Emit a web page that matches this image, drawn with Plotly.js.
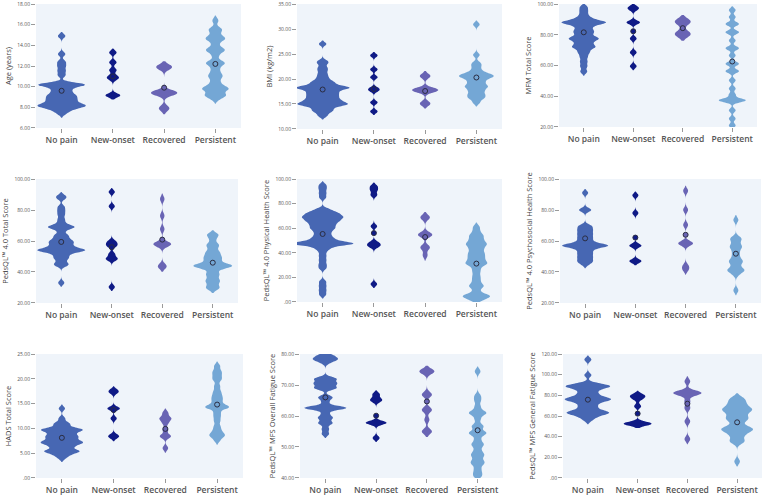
<!DOCTYPE html>
<html>
<head>
<meta charset="utf-8">
<script src="https://cdn.plot.ly/plotly-3.0.1.min.js"></script>
<style>html,body{margin:0;padding:0;background:#fff;}#chart{width:767px;height:497px;}</style>
</head>
<body>
<div id="chart"></div>
<script>
// ---------------- DATA ----------------
const categories = ['No pain', 'New-onset', 'Recovered', 'Persistent'];

const yTitles = [
  'Age (years)', 'BMI (kg/m2)', 'MFM Total Score',
  'PedsQL™ 4.0 Total Score', 'PedsQL™ 4.0 Physical Health Score', 'PedsQL™ 4.0 Psychosocial Health Score',
  'HADS Total Score', 'PedsQL™ MFS Overall Fatigue Score', 'PedsQL™ MFS General Fatigue Score'
];

// tick labels per panel
const ticksAge     = ['6.00','8.00','10.00','12.00','14.00','16.00','18.00'];
const ticksBmi     = ['10.00','15.00','20.00','25.00','30.00','35.00'];
const ticksMfm     = ['20.00','40.00','60.00','80.00','100.00'];
const ticksTotal   = ['20.00','40.00','60.00','80.00','100.00'];
const ticksPhys    = ['.00','20.00','40.00','60.00','80.00','100.00'];
const ticksPsych   = ['20.00','40.00','60.00','80.00','100.00'];
const ticksHads    = ['.00','5.00','10.00','15.00','20.00','25.00'];
const ticksOverall = ['40.00','50.00','60.00','70.00','80.00'];
const ticksGeneral = ['.00','20.00','40.00','60.00','80.00','100.00','120.00'];

// observations as [value, number of children with that value]
const ageNoPain     = [[14.9,1],[13.15,1],[12.4,1],[12.0,1],[11.55,1],[11.1,1],[10.2,6],[9.8,2],[9.45,2],[9.1,3],[8.75,3],[8.4,3],[8.1,5],[7.75,2],[7.4,1]];
const ageNewOnset   = [[13.3,1],[12.35,1],[11.6,1],[11.0,1],[10.75,1],[9.15,2]];
const ageRecovered  = [[11.9,3],[9.4,5],[7.9,2]];
const agePersistent = [[16.4,1],[15.55,2],[15.1,1],[14.65,3],[14.1,1],[13.55,3],[13.0,1],[12.3,3],[11.8,1],[11.4,1],[11.0,2],[10.5,1],[10.2,1],[9.8,4],[9.2,3],[8.85,1]];
const ageMeans      = [9.6, 11.0, 9.9, 12.2];

const bmiNoPain     = [[27,1],[23.6,1],[23.1,1],[22.3,1],[21.7,1],[21.0,1],[20.4,1],[19.9,1],[19.4,2],[18.9,2],[18.3,6],[17.7,3],[17.1,3],[16.5,3],[15.9,3],[15.4,3],[14.9,5],[14.3,2],[13.7,2],[13.2,1],[12.6,1]];
const bmiNewOnset   = [[24.7,1],[21.9,1],[20.35,1],[18.15,1],[17.65,1],[15.3,1],[13.5,1]];
const bmiRecovered  = [[20.6,2],[17.8,5],[15.1,2]];
const bmiPersistent = [[30.9,1],[24.8,1],[23.2,1],[22.6,1],[21.9,1],[21.2,2],[20.6,4],[20.0,2],[19.3,2],[18.5,3],[17.7,2],[16.9,2],[16.2,2],[15.3,1]];
const bmiMeans      = [17.9, 18.0, 17.6, 20.3];

const mfmNoPain     = [[98,1],[95.5,1],[93,1],[90.5,2],[88,6],[85.5,2],[83,2],[81,2],[78.5,2],[77,3],[74.5,2],[72,3],[69.5,1],[68,1],[65.5,1],[62.5,1],[59.5,1],[56,1]];
const mfmNewOnset   = [[98,1],[96.5,1],[88,2],[77.5,1],[68.5,1],[59.5,1]];
const mfmRecovered  = [[88.5,4],[80.5,4]];
const mfmPersistent = [[96,1],[91.5,1],[87,2],[81.6,2],[76.2,1],[71.2,2],[66.5,1],[61.1,2],[56.3,2],[50.3,1],[45,1],[41,1],[37.3,4],[30.8,1],[25.4,1],[21,1]];
const mfmMeans      = [81.6, 82.3, 84.3, 62.6];

const totalNoPain     = [[89,1],[87.5,1],[82,1],[79.5,1],[77,1],[74,1],[71.5,1],[69,4],[66.5,1],[63.5,2],[61,2],[59,3],[56.5,3],[54,7],[51.5,2],[49,2],[46.5,1],[44.5,2],[33,1]];
const totalNewOnset   = [[91.6,1],[82.4,1],[59.8,1],[58,1],[56.5,1],[51.6,1],[48.8,1],[48,1],[30.3,1]];
const totalRecovered  = [[87.1,1],[76.3,1],[67.7,1],[58,4],[43.7,2]];
const totalPersistent = [[64,2],[61,1],[57.5,2],[55,1],[52.5,2],[50,2],[48,2],[45.5,2],[43.7,6],[41,1],[38.5,2],[36,1],[34,2],[31.5,1],[29.5,2]];
const totalMeans      = [59.4, 56.0, 60.9, 46.0];

const physNoPain     = [[95,1],[92,1],[88.5,1],[85,1],[75,2],[72,4],[69,5],[66,4],[63,3],[60,3],[57,2],[54,2],[51,3],[47.5,9],[44,2],[41,1],[37.5,1],[34,1],[30.5,1],[27.5,1],[16.5,1],[13,1],[9.5,1],[6,1]];
const physNewOnset   = [[94,1],[91,1],[87,1],[61.5,1],[48.5,1],[46.5,1],[45,1],[14.5,1]];
const physRecovered  = [[68.8,2],[54.7,3],[44.4,2],[38,1]];
const physPersistent = [[61,1],[57.5,1],[54,2],[50.5,2],[47,3],[43.5,2],[40,2],[37,2],[34,2],[31,3],[27.5,1],[24.5,1],[21,1],[18,1],[15,1],[12.5,2],[8.5,1],[5,4],[2,2]];
const physMeans      = [55.3, 56.0, 52.8, 31.2];

const psychNoPain     = [[91,1],[80,2],[69.5,2],[67,2],[64.5,2],[62,2],[59.5,2],[57,7],[54.5,2],[52,2],[49.5,2],[47,2],[45,1]];
const psychNewOnset   = [[89.4,1],[78,1],[57,2],[47,2]];
const psychRecovered  = [[92.4,1],[80.1,1],[70.4,1],[58.5,3],[44,1],[41.5,1]];
const psychPersistent = [[73.6,1],[61.7,2],[59,1],[56.3,2],[53.5,1],[51,1],[48.5,1],[46.6,2],[44,1],[41.2,3],[38.5,1],[28.2,1]];
const psychMeans      = [61.7, 62.2, 64.0, 51.8];

const hadsNoPain     = [[14,1],[12,1],[11,2],[10.5,1],[9.75,6],[9,3],[8.3,4],[7.6,3],[7.05,5],[6.3,3],[5.4,5],[4.7,2],[4,1]];
const hadsNewOnset   = [[17.7,1],[17.2,1],[14,2],[12,1],[8.6,1],[8.2,1]];
const hadsRecovered  = [[13.1,1],[12,2],[11.1,1],[9.74,1],[8.4,2],[6,1]];
const hadsPersistent = [[22.6,1],[21.6,1],[21,1],[20.3,1],[19.7,1],[18.5,1],[17.5,1],[16.8,1],[16.2,1],[15.7,1],[15.1,1],[14.3,4],[13.2,1],[12.4,1],[11.5,1],[10.4,1],[9.6,1],[9.0,1],[8.5,2],[7.6,1]];
const hadsMeans      = [8.1, 13.7, 9.9, 14.8];

const overallNoPain     = [[79.5,2],[78.3,3],[77.2,1],[72,3],[70.5,3],[69,3],[66,2],[64.5,1],[62.6,6],[60.8,1],[59.4,2],[57.7,2],[55.8,1],[54.2,1]];
const overallNewOnset   = [[67,1],[65.5,1],[64.8,1],[57.8,3],[52.9,1]];
const overallRecovered  = [[74.4,3],[66.9,2],[62,2],[58.8,1],[55,2]];
const overallPersistent = [[74.4,1],[66.5,1],[65,1],[63,1],[61,3],[59,1],[56.7,2],[54.5,3],[52.5,1],[50.8,2],[49,1],[47.5,2],[46,1],[44.8,2],[43,1],[41.6,1],[40.5,1]];
const overallMeans      = [66.0, 60.1, 64.7, 55.4];

const generalNoPain     = [[114.5,1],[99.5,1],[91,2],[88.5,5],[85,2],[81.5,2],[78.5,2],[76,5],[73,2],[69.5,2],[66,2],[63,5],[59.5,2],[56,1]];
const generalNewOnset   = [[80.5,1],[79,1],[76.5,1],[69.4,1],[52.5,4]];
const generalRecovered  = [[93.5,1],[82.3,5],[74.2,1],[67.7,1],[54.8,1],[37.7,1]];
const generalPersistent = [[77,2],[73,2],[69.5,2],[66,4],[62,2],[58.5,2],[56,2],[52,1],[48.5,3],[46,3],[42,2],[38,1],[35,2],[16,1]];
const generalMeans      = [75.8, 62.3, 71.9, 53.9];

// ---------------- STYLE ----------------
const colors = ['#4767b3', '#0f1a86', '#6964b4', '#74a7d5'];
// pixel boxes of the nine plot areas [left, right, top, bottom]
const boxes = [
  [36,241,4,128],[297,502,4,129],[559,757,4,127],
  [36,238,179,303],[297,502,179,302],[560,761,179,303],
  [36,243,354,478],[300,503,354,478],[563,762,354,478]
];
// kernel bandwidth per group (value units) and widest-violin fraction per panel
const bandwidths = [
  [0.2,0.2,0.28,0.25],[0.35,0.35,0.5,0.4],[1.3,1.3,2.2,1.3],
  [1.3,1.3,1.8,1.5],[1.6,1.6,2.2,1.8],[1.3,1.3,1.6,1.6],
  [0.4,0.4,0.45,0.45],[0.65,0.65,0.9,0.8],[2,2,2.5,2.5]
];
const widestFrac = [0.94,1.05,0.9,0.95,1.2,0.92,0.82,0.83,0.93];

const panels = [
  {groups:[ageNoPain,ageNewOnset,ageRecovered,agePersistent], means:ageMeans, ticks:ticksAge},
  {groups:[bmiNoPain,bmiNewOnset,bmiRecovered,bmiPersistent], means:bmiMeans, ticks:ticksBmi},
  {groups:[mfmNoPain,mfmNewOnset,mfmRecovered,mfmPersistent], means:mfmMeans, ticks:ticksMfm},
  {groups:[totalNoPain,totalNewOnset,totalRecovered,totalPersistent], means:totalMeans, ticks:ticksTotal},
  {groups:[physNoPain,physNewOnset,physRecovered,physPersistent], means:physMeans, ticks:ticksPhys},
  {groups:[psychNoPain,psychNewOnset,psychRecovered,psychPersistent], means:psychMeans, ticks:ticksPsych},
  {groups:[hadsNoPain,hadsNewOnset,hadsRecovered,hadsPersistent], means:hadsMeans, ticks:ticksHads},
  {groups:[overallNoPain,overallNewOnset,overallRecovered,overallPersistent], means:overallMeans, ticks:ticksOverall},
  {groups:[generalNoPain,generalNewOnset,generalRecovered,generalPersistent], means:generalMeans, ticks:ticksGeneral}
];

function expand(pairs){ const out=[]; pairs.forEach(p=>{ for(let i=0;i<p[1];i++) out.push(p[0]); }); return out; }
// peak of the count-weighted gaussian KDE: used so that violin width is proportional to group size
function kdePeak(vals,bw){
  const lo=Math.min(...vals)-2*bw, hi=Math.max(...vals)+2*bw; let m=0;
  for(let i=0;i<=600;i++){ const y=lo+(hi-lo)*i/600; let s=0;
    for(const v of vals){ const u=(y-v)/bw; s+=Math.exp(-0.5*u*u); }
    s/= Math.sqrt(2*Math.PI)*bw; if(s>m) m=s; }
  return m;
}

const W=767, H=497;
const FONT='Open Sans, Noto Sans, sans-serif';
const traces=[]; const layout={
  width:W, height:H, margin:{l:0,r:0,t:0,b:0}, paper_bgcolor:'#ffffff', plot_bgcolor:'#eff4fa',
  showlegend:false, violinmode:'overlay', hovermode:false, font:{family:FONT}
};

panels.forEach((p,k)=>{
  const n=k+1, sfx = n===1?'':String(n);
  const b=boxes[k];
  const valsList = p.groups.map(expand);
  const peaks = valsList.map((v,i)=>kdePeak(v,bandwidths[k][i]));
  const maxPeak = Math.max(...peaks);
  valsList.forEach((vals,i)=>{
    traces.push({type:'violin', x:vals.map(()=>categories[i]), y:vals,
      xaxis:'x'+sfx, yaxis:'y'+sfx, scalegroup:'p'+n+'g'+i, scalemode:'width',
      bandwidth:bandwidths[k][i], width:widestFrac[k]*peaks[i]/maxPeak, spanmode:'soft', points:false,
      box:{visible:false}, meanline:{visible:false},
      line:{color:colors[i], width:0}, fillcolor:colors[i], opacity:1,
      hoverinfo:'skip', showlegend:false});
  });
  traces.push({type:'scatter', mode:'markers', x:categories, y:p.means,
    xaxis:'x'+sfx, yaxis:'y'+sfx, hoverinfo:'skip', showlegend:false,
    marker:{symbol:'circle', size:5, color:colors, line:{width:1, color:'#2b2d42'}}});
  const tv = p.ticks.map(parseFloat);
  const eps = (tv[tv.length-1]-tv[0])*1e-4;
  layout['xaxis'+sfx] = {domain:[b[0]/W, b[1]/W], anchor:'y'+sfx, type:'category',
    categoryorder:'array', categoryarray:categories, range:[-0.5,3.5],
    showgrid:false, zeroline:false, showline:false, ticks:'outside', ticklen:4, tickwidth:1, tickcolor:'#9a9a9a',
    tickfont:{family:FONT, size:8.5, color:'#555555', weight:600}, fixedrange:true};
  layout['yaxis'+sfx] = {domain:[1-b[3]/H, 1-b[2]/H], anchor:'x'+sfx,
    range:[tv[0]-eps, tv[tv.length-1]+eps], tickvals:tv, ticktext:p.ticks,
    showgrid:false, zeroline:false, showline:false, ticks:'outside', ticklen:4, tickwidth:1, tickcolor:'#9a9a9a',
    tickfont:{family:FONT, size:5, color:'#555555'},
    title:{text:yTitles[k], font:{family:FONT, size:7.5, color:'#444444'}, standoff:4}, fixedrange:true};
});

Plotly.newPlot('chart', traces, layout, {staticPlot:true, displayModeBar:false});
</script>
</body>
</html>
